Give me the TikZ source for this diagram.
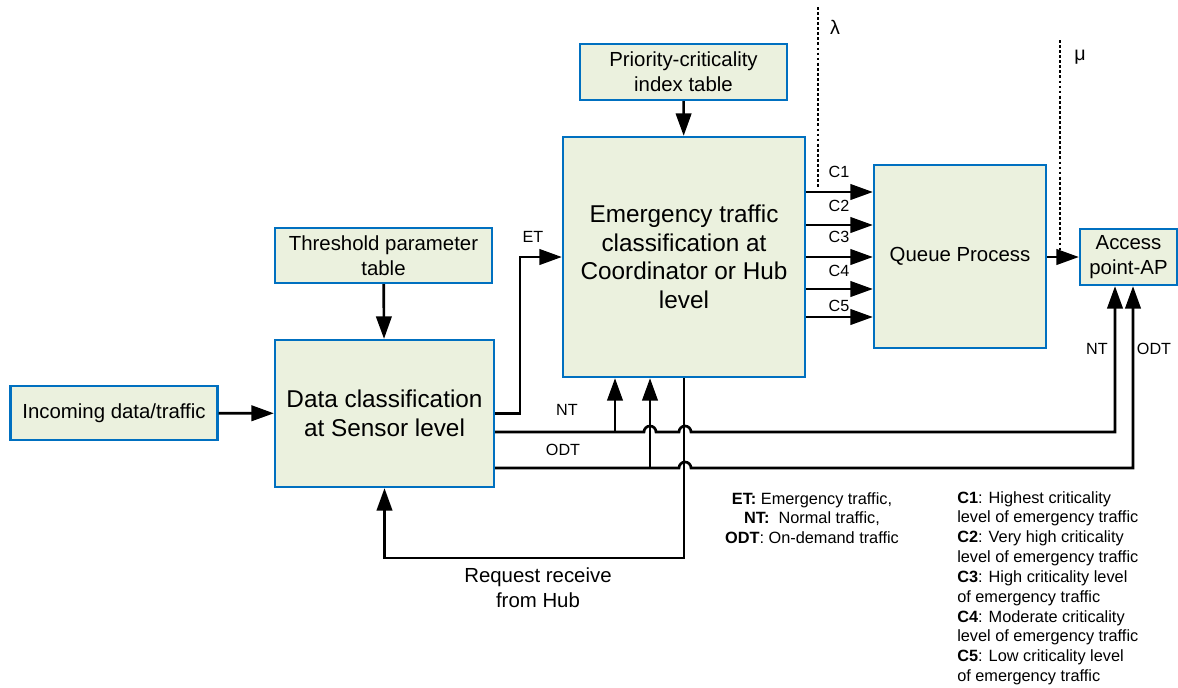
\documentclass[tikz,border=0pt]{standalone}
\usepackage{fontspec}
\setmainfont{Liberation Sans}
\usetikzlibrary{arrows.meta, positioning, calc}

\definecolor{boxfill}{HTML}{EBF1DE}
\definecolor{boxline}{HTML}{0070C0}

\begin{document}
\begin{tikzpicture}[
    x=0.025cm, y=0.025cm,
    block/.style={
        draw=boxline,
        fill=boxfill,
        line width=1.6pt,
        inner sep=0pt,
        align=center,
        font=\fontsize{14.5}{17.5}\selectfont
    },
    bigblock/.style={
        block,
        font=\fontsize{17.3}{20.3}\selectfont
    },
    arrow/.style={
        -{Triangle[length=16pt,width=11pt]},
        line width=1.9pt,
        black
    },
    dots/.style={line width=2.1pt, dash pattern=on 2pt off 1.6pt},
    lbl/.style={font=\fontsize{11.5}{13.5}\selectfont},
    note/.style={font=\fontsize{11.6}{14.1}\selectfont}
]
\useasboundingbox (0,0) rectangle (1178,-687);

% Nodes (positioned like the image)
\node[block, minimum width=5.175cm, minimum height=1.35cm] (incoming) at (114,-413) {Incoming data/traffic};
\node[bigblock, minimum width=5.475cm, minimum height=3.675cm] (sensor) at (384.5,-413.5) {Data classification\\at Sensor level};
\node[block, minimum width=5.425cm, minimum height=1.375cm] (threshold) at (383.5,-255.5) {Threshold parameter\\table};
\node[block, minimum width=5.175cm, minimum height=1.4cm] (priority) at (683.5,-72) {Priority-criticality\\index table};
\node[bigblock, minimum width=6.05cm, minimum height=6cm] (hub) at (684,-257) {Emergency traffic\\classification at\\Coordinator or Hub\\level};
\node[block, minimum width=4.3cm, minimum height=4.575cm] (queue) at (960,-256.5) {Queue Process};
\node[block, minimum width=2.425cm, minimum height=1.4cm] (access) at (1128.5,-257) {Access\\point-AP};

% Junction points
\coordinate (etx) at (520,0);
\coordinate (ntout) at ($(sensor.east)+(0,-18.5)$);
\coordinate (odtout) at ($(sensor.east)+(0,-54.5)$);
\coordinate (ntbr) at (615,-432);
\coordinate (odtbr) at (650,-468);
\coordinate (ntend) at (1115,-432);
\coordinate (odtend) at (1133,-468);
\coordinate (reqlow) at (0,-558);
\coordinate (lamtop) at (818,-7);
\coordinate (mutop) at (1060,-40);

% Straight arrows
\draw[arrow] (incoming) -- (sensor);
\draw[arrow] (threshold) -- (sensor);
\draw[arrow] (priority) -- (hub);
\draw[arrow] (queue.east |- access.west) -- (access.west);
\draw[arrow] (sensor.east) -| (etx |- hub.west) -- (hub.west);

% Classes C1..C5
\foreach \y/\ly/\c in {192/172/C1, 225/206/C2, 257/237/C3, 289/271/C4, 317/306/C5}{
    \draw[arrow] (hub.east |- 0,-\y) -- (queue.west |- 0,-\y);
    \node[lbl] (lab\c) at (839,-\ly) {\c};
}

% NT and ODT lines with hops
\draw[arrow] (ntout) -- (644,-432) arc[start angle=180, end angle=0, radius=6]
    -- (679,-432) arc[start angle=180, end angle=0, radius=6]
    -- (ntend) -- (ntend |- access.south);
\draw[arrow] (odtout) -- (679,-468) arc[start angle=180, end angle=0, radius=6]
    -- (odtend) -- (odtend |- access.south);
\draw[arrow] (ntbr) -- (ntbr |- hub.south);
\draw[arrow] (odtbr) -- (odtbr |- hub.south);

% Request back to sensor
\draw[arrow] (hub.south) -- (hub.south |- reqlow) -- (sensor.south |- reqlow) -- (sensor.south);

% Rates
\draw[dots] (lamtop) -- (lamtop |- 0,-188);
\draw[dots] (mutop) -- (mutop |- 0,-250);
\node[font=\fontsize{14}{16}\selectfont] (lam) at (835,-27) {λ};
\node[font=\fontsize{14}{16}\selectfont] (mu) at (1080,-57) {μ};

% Labels
\node[lbl] (etlbl) at (533,-237) {ET};
\node[lbl] (ntlbl) at (567,-410) {NT};
\node[lbl] (odtlbl) at (563,-450) {ODT};
\node[lbl] (ntap) at (1097,-349) {NT};
\node[lbl] (odtap) at (1154,-349) {ODT};
\node[align=center, font=\fontsize{14.5}{17.5}\selectfont] (req) at (538,-588) {Request receive\\from Hub};

% Legends
\node[note, align=center] (abbr) at (812,-518) {\textbf{ET:} Emergency traffic,\\\textbf{NT:}\ \ Normal traffic,\\\textbf{ODT}: On-demand traffic};
\node[note, align=left, anchor=north west, inner sep=0pt] (classes) at (957,-491) {\textbf{C1}: Highest criticality\\level of emergency traffic\\\textbf{C2}: Very high criticality\\level of emergency traffic\\\textbf{C3}: High criticality level\\of emergency traffic\\\textbf{C4}: Moderate criticality\\level of emergency traffic\\\textbf{C5}: Low criticality level\\of emergency traffic};

\end{tikzpicture}
\end{document}
